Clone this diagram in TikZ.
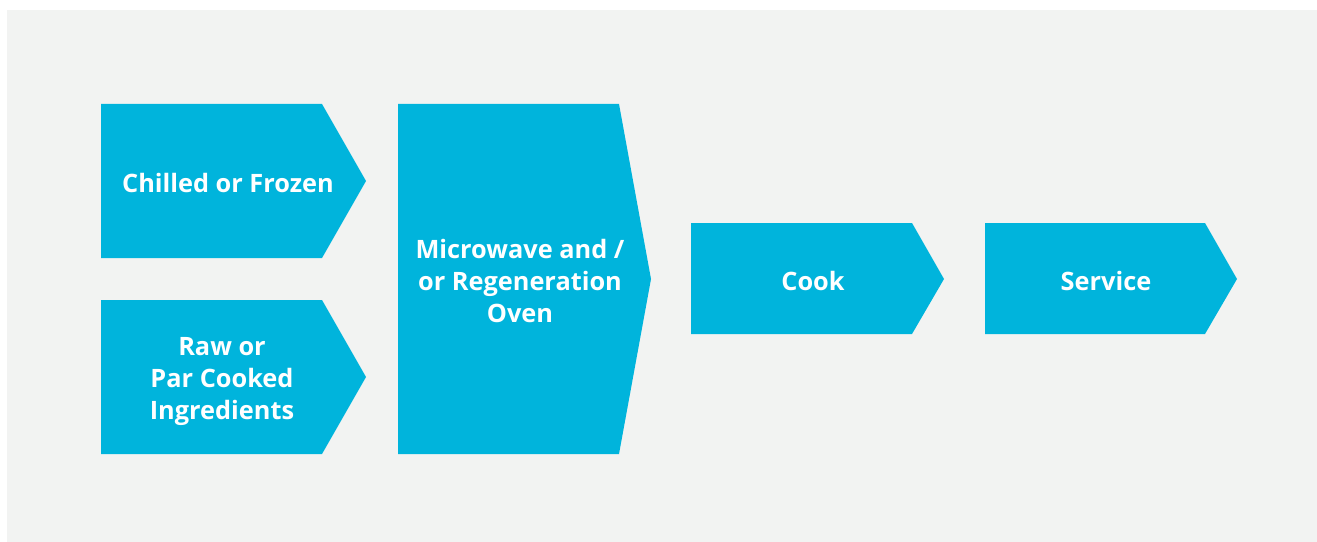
\documentclass[tikz,border=0pt]{standalone}
\usepackage{fontspec}
\setmainfont{Open Sans}
\usepackage{xcolor}
\definecolor{stepblue}{HTML}{00B4DC}
\definecolor{panelgray}{HTML}{F2F3F2}
\usetikzlibrary{positioning}

\begin{document}
\begin{tikzpicture}[x=0.75pt, y=-0.75pt,
  stepshape/.style={fill=stepblue},
  steplabel/.style={text=white, font=\fontsize{19}{24}\selectfont\bfseries, align=center, inner sep=0pt}]
  \useasboundingbox (0,0) rectangle (1317,542);
  \fill[panelgray] (7,10) rectangle (1317,542);

  % Shapes
  \fill[stepshape] (101,104) -- (322,104) -- (366,181) -- (322,258) -- (101,258) -- cycle;
  \fill[stepshape] (101,300) -- (322,300) -- (366,377) -- (322,454) -- (101,454) -- cycle;
  \fill[stepshape] (398,104) -- (619,104) -- (651,279) -- (619,454) -- (398,454) -- cycle;
  \fill[stepshape] (691,223) -- (912,223) -- (944,279) -- (912,334) -- (691,334) -- cycle;
  \fill[stepshape] (985,223) -- (1205,223) -- (1237,279) -- (1205,334) -- (985,334) -- cycle;

  % Labels
  \node[steplabel] (chilled) at (228,183) {Chilled or Frozen};
  \node[steplabel] (raw) at (222,381) {Raw or\\Par Cooked\\Ingredients};
  \node[steplabel] (oven) at (520,281) {Microwave and /\\or Regeneration\\Oven};
  \node[steplabel] (cook) at (813,281) {Cook};
  \node[steplabel] (service) at (1106,281) {Service};
\end{tikzpicture}
\end{document}
